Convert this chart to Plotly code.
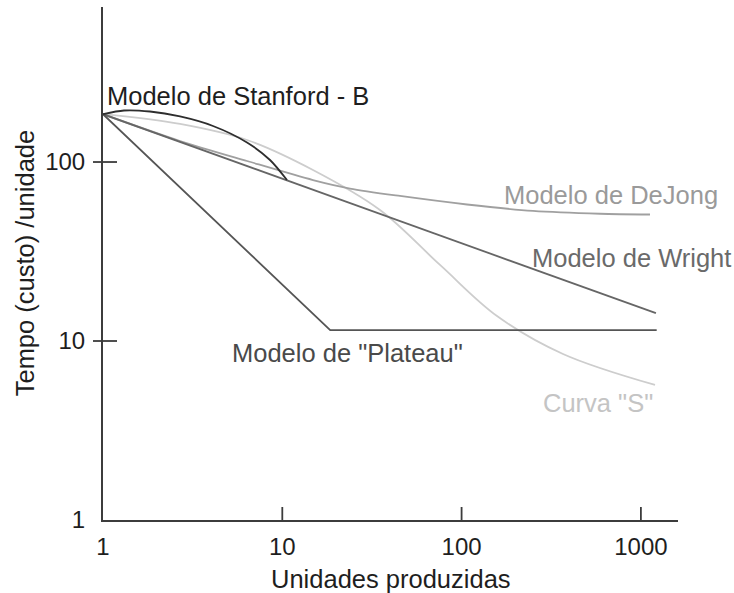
import math
import plotly.graph_objects as go

# ---- data (log-log chart) ----
stanford_x = [1, 1.309, 1.829, 2.689, 4.107, 6.356, 8.54, 10.62]
stanford_y = [185, 194.0, 191.5, 179.6, 158.9, 128.5, 102.6, 79.3]

plateau_x = [1, 18.5, 1225]
plateau_y = [185, 11.5, 11.5]

wright_x = [1, 1213]
wright_y = [185, 14.3]

dejong_x = [1, 2.689, 6.356, 14.83, 23.85, 45.34, 107.2, 250.1, 591.5, 1124]
dejong_y = [185, 131.0, 101.3, 79.3, 71.1, 64.6, 57.9, 53.3, 51.4, 50.9]

scurve_x = [1, 2.689, 6.356, 14.83, 35.07, 75.8, 157.6, 367.8, 1199]
scurve_y = [185, 163.1, 132.7, 90.2, 53.9, 26.6, 13.79, 8.46, 5.68]

x_ticks = [1, 10, 100, 1000]
x_ticktext = ["1", "10", "100", "1000"]
y_ticks = [1, 10, 100]
y_ticktext = ["1", "10", "100"]

labels = ["Modelo de Stanford - B", "Modelo de DeJong", "Modelo de Wright",
          "Modelo de \"Plateau\"", "Curva \"S\""]
label_x = [1.03, 168, 240, 5.1, 277]
label_y = [234, 65.5, 29.1, 8.57, 4.5]

x_title = "Unidades produzidas"
y_title = "Tempo (custo) /unidade"

FONT = "Liberation Sans, Arial, sans-serif"
AX = "#3c3c3c"

fig = go.Figure()

fig.add_trace(go.Scatter(x=scurve_x, y=scurve_y, mode="lines",
                         line=dict(color="#cdcdcd", width=1.8, shape="spline", smoothing=1.0)))
fig.add_trace(go.Scatter(x=dejong_x, y=dejong_y, mode="lines",
                         line=dict(color="#a0a0a0", width=1.8, shape="spline", smoothing=0.8)))
fig.add_trace(go.Scatter(x=wright_x, y=wright_y, mode="lines",
                         line=dict(color="#666666", width=1.8)))
fig.add_trace(go.Scatter(x=plateau_x, y=plateau_y, mode="lines",
                         line=dict(color="#555555", width=1.8)))
fig.add_trace(go.Scatter(x=stanford_x, y=stanford_y, mode="lines",
                         line=dict(color="#2e2e2e", width=1.8, shape="spline", smoothing=0.8)))

label_colors = ["#1e1e1e", "#9a9a9a", "#6a6a6a", "#4a4a4a", "#c4c4c4"]
for t, lx, ly, c in zip(labels, label_x, label_y, label_colors):
    fig.add_annotation(x=math.log10(lx), y=math.log10(ly), xref="x", yref="y",
                       text=t, showarrow=False, xanchor="left", yanchor="middle",
                       font=dict(family=FONT, size=25.5, color=c))

# cross-style tick marks (shapes on log axes take data values)
shapes = []
for v in x_ticks[1:]:
    shapes.append(dict(type="line", xref="x", yref="paper", x0=v, x1=v,
                       ysizemode="pixel", yanchor=0, y0=0, y1=13,
                       line=dict(color=AX, width=1.8)))
for v in y_ticks[1:]:
    shapes.append(dict(type="line", yref="y", xref="paper", y0=v, y1=v,
                       xsizemode="pixel", xanchor=0, x0=-10, x1=14,
                       line=dict(color=AX, width=1.8)))
fig.update_layout(shapes=shapes)

fig.add_annotation(x=0.5, y=-0.115, xref="paper", yref="paper", text=x_title, showarrow=False,
                   xanchor="center", yanchor="middle", font=dict(family=FONT, size=25.5, color="#1e1e1e"))
fig.add_annotation(x=-0.136, y=0.5, xref="paper", yref="paper", text=y_title, showarrow=False,
                   textangle=-90, xanchor="center", yanchor="middle",
                   font=dict(family=FONT, size=25.5, color="#1e1e1e"))

fig.update_xaxes(type="log", range=[0, 3.207], showgrid=False, zeroline=False,
                 showline=True, linecolor=AX, linewidth=2, ticks="",
                 tickvals=x_ticks, ticktext=x_ticktext, ticklabelstandoff=4,
                 tickfont=dict(family=FONT, size=24, color="#1e1e1e"))
fig.update_yaxes(type="log", range=[0, 2.866], showgrid=False, zeroline=False,
                 showline=True, linecolor=AX, linewidth=2, ticks="",
                 tickvals=y_ticks, ticktext=y_ticktext, ticklabelstandoff=11,
                 tickfont=dict(family=FONT, size=24, color="#1e1e1e"))

fig.update_layout(width=734, height=593, showlegend=False,
                  margin=dict(l=103, r=56, t=7, b=73),
                  paper_bgcolor="white", plot_bgcolor="white")

fig.write_html("out.html", config={"displayModeBar": False},
               post_script="document.body.style.margin='0';document.body.style.overflow='hidden';")
